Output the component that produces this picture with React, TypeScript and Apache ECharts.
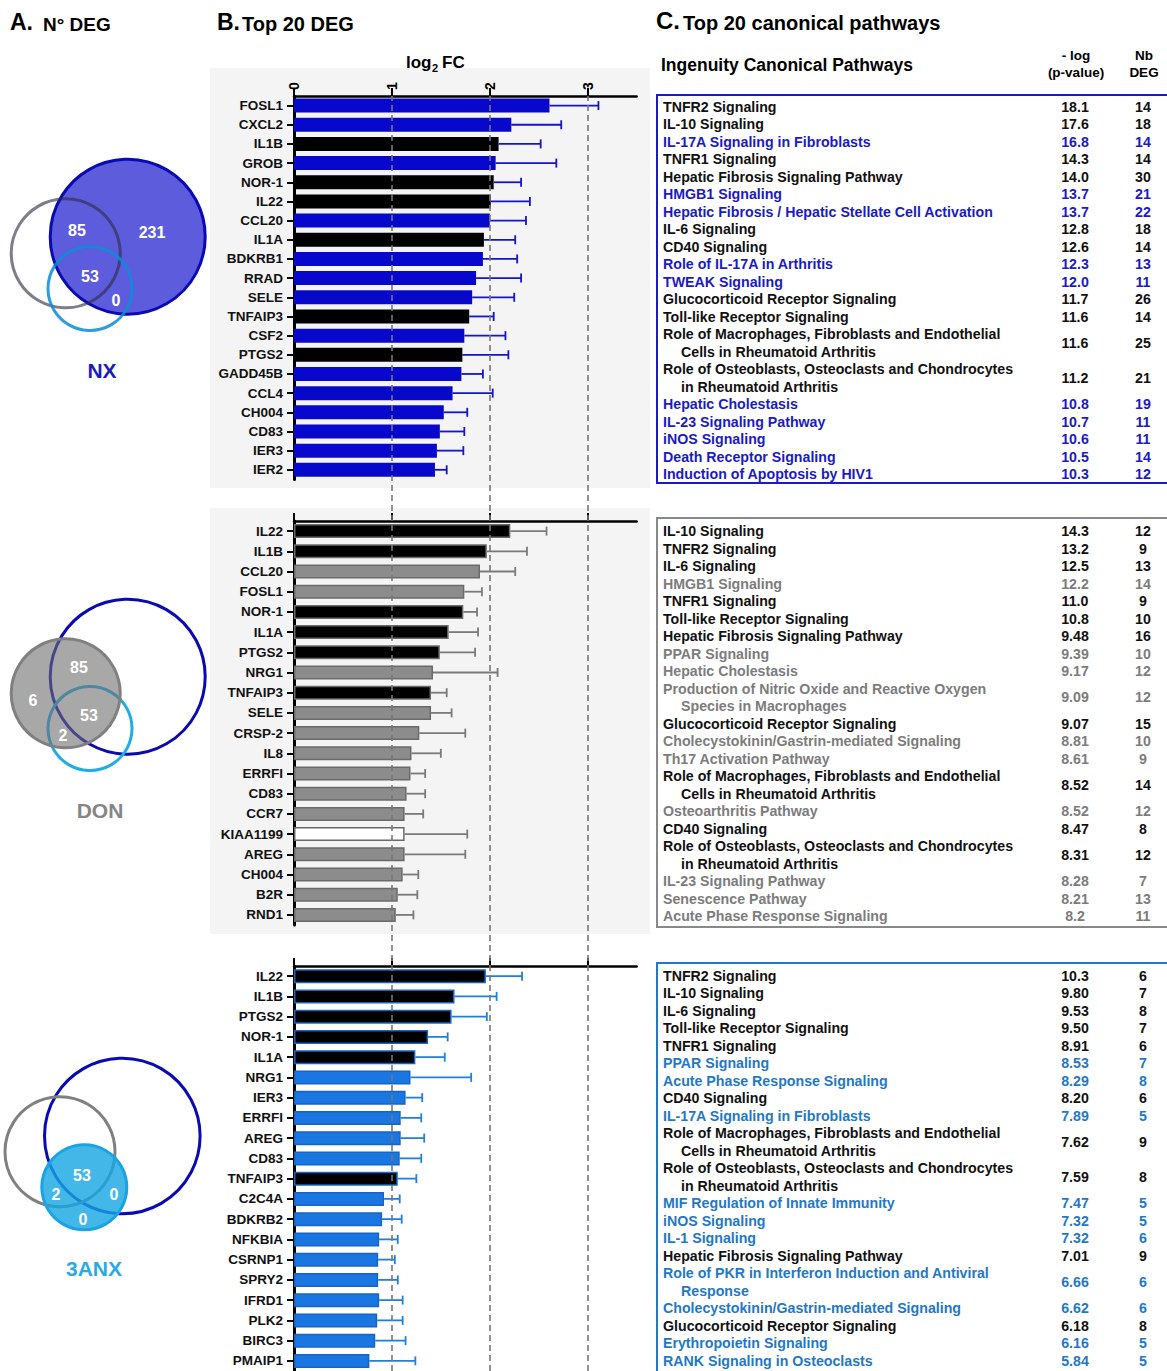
import React, { useEffect, useRef } from 'react';
import * as echarts from 'echarts';

const FONT = '"Liberation Sans", Arial, Helvetica, sans-serif';

// ---------- Panel B data (log2 FC, error) ----------
const nxGenes = ['FOSL1', 'CXCL2', 'IL1B', 'GROB', 'NOR-1', 'IL22', 'CCL20', 'IL1A', 'BDKRB1', 'RRAD', 'SELE', 'TNFAIP3', 'CSF2', 'PTGS2', 'GADD45B', 'CCL4', 'CH004', 'CD83', 'IER3', 'IER2'];
const nxFC = [2.61, 2.22, 2.09, 2.06, 2.04, 2.01, 2.0, 1.94, 1.93, 1.86, 1.82, 1.79, 1.74, 1.72, 1.71, 1.62, 1.53, 1.49, 1.46, 1.44];
const nxErr = [0.5, 0.51, 0.43, 0.62, 0.28, 0.4, 0.37, 0.32, 0.35, 0.46, 0.43, 0.25, 0.42, 0.47, 0.22, 0.41, 0.24, 0.25, 0.27, 0.12];

const donGenes = ['IL22', 'IL1B', 'CCL20', 'FOSL1', 'NOR-1', 'IL1A', 'PTGS2', 'NRG1', 'TNFAIP3', 'SELE', 'CRSP-2', 'IL8', 'ERRFI', 'CD83', 'CCR7', 'KIAA1199', 'AREG', 'CH004', 'B2R', 'RND1'];
const donFC = [2.21, 1.97, 1.9, 1.74, 1.73, 1.58, 1.49, 1.42, 1.4, 1.4, 1.28, 1.2, 1.19, 1.15, 1.13, 1.13, 1.13, 1.11, 1.06, 1.04];
const donErr = [0.37, 0.41, 0.36, 0.18, 0.14, 0.3, 0.36, 0.66, 0.16, 0.21, 0.47, 0.3, 0.15, 0.19, 0.19, 0.64, 0.62, 0.16, 0.2, 0.18];

const anxGenes = ['IL22', 'IL1B', 'PTGS2', 'NOR-1', 'IL1A', 'NRG1', 'IER3', 'ERRFI', 'AREG', 'CD83', 'TNFAIP3', 'C2C4A', 'BDKRB2', 'NFKBIA', 'CSRNP1', 'SPRY2', 'IFRD1', 'PLK2', 'BIRC3', 'PMAIP1'];
const anxFC = [1.96, 1.64, 1.61, 1.37, 1.24, 1.19, 1.14, 1.09, 1.09, 1.08, 1.06, 0.92, 0.9, 0.87, 0.86, 0.86, 0.87, 0.85, 0.83, 0.77];
const anxErr = [0.37, 0.43, 0.36, 0.2, 0.3, 0.62, 0.17, 0.21, 0.24, 0.22, 0.19, 0.16, 0.2, 0.19, 0.17, 0.2, 0.24, 0.26, 0.31, 0.47];

const commonGenes = ['IL1B', 'NOR-1', 'IL22', 'IL1A', 'TNFAIP3', 'PTGS2'];
const hollowGenes = ['KIAA1199'];
const xTicks = [0, 1, 2, 3];
const refLines = [1, 2, 3];

// ---------- Panel A data ----------
const nxVenn = ['85', '231', '53', '0'];
const donVenn = ['85', '6', '53', '2'];
const anxVenn = ['53', '2', '0', '0'];

// ---------- Panel C data ----------
const nxPaths = ['TNFR2 Signaling', 'IL-10 Signaling', 'IL-17A Signaling in Fibroblasts', 'TNFR1 Signaling', 'Hepatic Fibrosis Signaling Pathway', 'HMGB1 Signaling', 'Hepatic Fibrosis / Hepatic Stellate Cell Activation', 'IL-6 Signaling', 'CD40 Signaling', 'Role of IL-17A in Arthritis', 'TWEAK Signaling', 'Glucocorticoid Receptor Signaling', 'Toll-like Receptor Signaling', 'Role of Macrophages, Fibroblasts and Endothelial\nCells in Rheumatoid Arthritis', 'Role of Osteoblasts, Osteoclasts and Chondrocytes\nin Rheumatoid Arthritis', 'Hepatic Cholestasis', 'IL-23 Signaling Pathway', 'iNOS Signaling', 'Death Receptor Signaling', 'Induction of Apoptosis by HIV1'];
const nxLogP = ['18.1', '17.6', '16.8', '14.3', '14.0', '13.7', '13.7', '12.8', '12.6', '12.3', '12.0', '11.7', '11.6', '11.6', '11.2', '10.8', '10.7', '10.6', '10.5', '10.3'];
const nxNb = [14, 18, 14, 14, 30, 21, 22, 18, 14, 13, 11, 26, 14, 25, 21, 19, 11, 11, 14, 12];
const nxHi = [0, 0, 1, 0, 0, 1, 1, 0, 0, 1, 1, 0, 0, 0, 0, 1, 1, 1, 1, 1];

const donPaths = ['IL-10 Signaling', 'TNFR2 Signaling', 'IL-6 Signaling', 'HMGB1 Signaling', 'TNFR1 Signaling', 'Toll-like Receptor Signaling', 'Hepatic Fibrosis Signaling Pathway', 'PPAR Signaling', 'Hepatic Cholestasis', 'Production of Nitric Oxide and Reactive Oxygen\nSpecies in Macrophages', 'Glucocorticoid Receptor Signaling', 'Cholecystokinin/Gastrin-mediated Signaling', 'Th17 Activation Pathway', 'Role of Macrophages, Fibroblasts and Endothelial\nCells in Rheumatoid Arthritis', 'Osteoarthritis Pathway', 'CD40 Signaling', 'Role of Osteoblasts, Osteoclasts and Chondrocytes\nin Rheumatoid Arthritis', 'IL-23 Signaling Pathway', 'Senescence Pathway', 'Acute Phase Response Signaling'];
const donLogP = ['14.3', '13.2', '12.5', '12.2', '11.0', '10.8', '9.48', '9.39', '9.17', '9.09', '9.07', '8.81', '8.61', '8.52', '8.52', '8.47', '8.31', '8.28', '8.21', '8.2'];
const donNb = [12, 9, 13, 14, 9, 10, 16, 10, 12, 12, 15, 10, 9, 14, 12, 8, 12, 7, 13, 11];
const donHi = [0, 0, 0, 1, 0, 0, 0, 1, 1, 1, 0, 1, 1, 0, 1, 0, 0, 1, 1, 1];

const anxPaths = ['TNFR2 Signaling', 'IL-10 Signaling', 'IL-6 Signaling', 'Toll-like Receptor Signaling', 'TNFR1 Signaling', 'PPAR Signaling', 'Acute Phase Response Signaling', 'CD40 Signaling', 'IL-17A Signaling in Fibroblasts', 'Role of Macrophages, Fibroblasts and Endothelial\nCells in Rheumatoid Arthritis', 'Role of Osteoblasts, Osteoclasts and Chondrocytes\nin Rheumatoid Arthritis', 'MIF Regulation of Innate Immunity', 'iNOS Signaling', 'IL-1 Signaling', 'Hepatic Fibrosis Signaling Pathway', 'Role of PKR in Interferon Induction and Antiviral\nResponse', 'Cholecystokinin/Gastrin-mediated Signaling', 'Glucocorticoid Receptor Signaling', 'Erythropoietin Signaling', 'RANK Signaling in Osteoclasts'];
const anxLogP = ['10.3', '9.80', '9.53', '9.50', '8.91', '8.53', '8.29', '8.20', '7.89', '7.62', '7.59', '7.47', '7.32', '7.32', '7.01', '6.66', '6.62', '6.18', '6.16', '5.84'];
const anxNb = [6, 7, 8, 7, 6, 7, 8, 6, 5, 9, 8, 5, 5, 6, 9, 6, 6, 8, 5, 5];
const anxHi = [0, 0, 0, 0, 0, 1, 1, 0, 1, 0, 0, 1, 1, 1, 0, 1, 1, 0, 1, 1];

// ---------- layout ----------
const AX_LEFT = 294;
const AX_WIDTH = 342.6;
const panels = [
  { top: 96, height: 383.4 },
  { top: 521, height: 404 },
  { top: 966, height: 408 },
];

function txt(x: number, y: number, text: string, size: number, fill: string, align = 'left', weight = 'bold', z = 50) {
  return {
    type: 'text',
    x,
    y,
    z,
    silent: true,
    style: {
      text,
      fill,
      font: `${weight} ${size}px ${FONT}`,
      textAlign: align,
      textVerticalAlign: 'middle',
    },
  };
}

function barPanel(i: number, genes: string[], fc: number[], err: number[], st: any) {
  const grid = { left: AX_LEFT, width: AX_WIDTH, top: panels[i].top, height: panels[i].height, containLabel: false };
  const xAxis = {
    gridIndex: i,
    type: 'value',
    position: 'top',
    min: 0,
    max: 3.5,
    interval: 1,
    axisLine: { show: true, onZero: false, lineStyle: { color: '#000', width: 2.5 } },
    axisTick: { show: true, inside: false, length: 8, customValues: xTicks, lineStyle: { color: '#000', width: 2 } },
    axisLabel: {
      show: i === 0,
      rotate: -90,
      margin: 6,
      customValues: xTicks,
      formatter: (v: number) => (Number.isInteger(v) && v <= 3 ? String(v) : ''),
      fontFamily: FONT,
      fontWeight: 'bold',
      fontSize: 14,
      color: '#000',
    },
    splitLine: { show: false },
  };
  const yAxis = {
    gridIndex: i,
    type: 'category',
    data: genes,
    inverse: true,
    axisLine: { show: true, lineStyle: { color: '#000', width: 3 } },
    axisTick: { show: true, alignWithLabel: true, length: 7, lineStyle: { color: '#000', width: 2 } },
    axisLabel: { margin: 11, fontFamily: FONT, fontWeight: 'bold', fontSize: 13.5, color: '#111' },
    splitLine: { show: false },
  };
  const barData = fc.map((v, k) => {
    const g = genes[k];
    let itemStyle: any = { color: st.bar, borderColor: st.border, borderWidth: st.borderWidth };
    if (commonGenes.includes(g)) itemStyle = { color: '#000', borderColor: st.border, borderWidth: st.borderWidth };
    if (hollowGenes.includes(g)) itemStyle = { color: '#fff', borderColor: st.border, borderWidth: 1.5 };
    return { value: v, itemStyle };
  });
  const bars = {
    type: 'bar',
    xAxisIndex: i,
    yAxisIndex: i,
    data: barData,
    barWidth: 14,
    z: 3,
    silent: true,
  };
  const errColor = st.err;
  const errs = {
    type: 'custom',
    xAxisIndex: i,
    yAxisIndex: i,
    z: 4,
    silent: true,
    encode: { x: [0, 2], y: 1 },
    data: fc.map((v, k) => [v, k, v + err[k]]),
    renderItem: (params: any, api: any) => {
      const s = api.coord([api.value(0), api.value(1)]);
      const e = api.coord([api.value(2), api.value(1)]);
      return {
        type: 'group',
        children: [
          { type: 'line', shape: { x1: s[0], y1: s[1], x2: e[0], y2: e[1] }, style: { stroke: errColor, lineWidth: 1.8 } },
          { type: 'line', shape: { x1: e[0], y1: e[1] - 4.5, x2: e[0], y2: e[1] + 4.5 }, style: { stroke: errColor, lineWidth: 1.8 } },
        ],
      };
    },
  };
  return { grid, xAxis, yAxis, series: [bars, errs] };
}

function tableEls(names: string[], vals: string[], nbs: number[], hi: number[], hiColor: string, border: string, top: number, height: number, firstY: number) {
  const STEP = 17.5;
  const FS = 14.2;
  const els: any[] = [];
  els.push({ type: 'rect', z: 40, silent: true, shape: { x: 657, y: top, width: 530, height }, style: { fill: 'none', stroke: border, lineWidth: 2 } });
  let line = 0;
  names.forEach((nm, i) => {
    const parts = nm.split('\n');
    const color = hi[i] ? hiColor : '#111';
    const y0 = firstY + line * STEP;
    parts.forEach((p, j) => els.push(txt(j === 0 ? 663 : 681, y0 + j * STEP, p, FS, color)));
    const yc = y0 + ((parts.length - 1) * STEP) / 2;
    els.push(txt(1075, yc, vals[i], FS, color, 'center'));
    els.push(txt(1143, yc, String(nbs[i]), FS, color, 'center'));
    line += parts.length;
  });
  return els;
}

type Pt = [number, number];

function vennEls(kind: string, big: any, gray: any, lb: any, labels: string[], pos: Pt[]) {
  const els: any[] = [];
  const c = (shape: any, style: any, z: number) => ({ type: 'circle', z, silent: true, shape, style });
  if (kind === 'nx') {
    els.push(c(big, { fill: '#5c5cdc', stroke: '#0a0ab4', lineWidth: 3 }, 20));
    els.push(c(gray, { fill: 'none', stroke: 'rgba(45,45,70,0.62)', lineWidth: 3 }, 21));
    els.push(c(lb, { fill: 'none', stroke: 'rgba(10,140,215,0.85)', lineWidth: 3 }, 22));
  } else if (kind === 'don') {
    els.push(c(big, { fill: 'none', stroke: '#0a0ab4', lineWidth: 3 }, 20));
    els.push(c(lb, { fill: 'none', stroke: '#22ace6', lineWidth: 3 }, 21));
    els.push(c(gray, { fill: 'rgba(110,110,110,0.6)', stroke: '#808080', lineWidth: 3 }, 22));
  } else {
    els.push(c(big, { fill: 'none', stroke: '#0a0ab4', lineWidth: 3 }, 20));
    els.push(c(gray, { fill: 'none', stroke: '#808080', lineWidth: 3 }, 21));
    els.push(c(lb, { fill: 'rgba(20,165,225,0.8)', stroke: '#1aa3e2', lineWidth: 3 }, 22));
  }
  labels.forEach((l, k) => els.push(txt(pos[k][0], pos[k][1], l, 16, '#fff', 'center')));
  return els;
}

function buildOption() {
  const p1 = barPanel(0, nxGenes, nxFC, nxErr, { bar: '#0808cc', border: 'rgba(0,0,0,0)', borderWidth: 0, err: '#1414cc' });
  const p2 = barPanel(1, donGenes, donFC, donErr, { bar: '#8c8c8c', border: '#6a6a6a', borderWidth: 1.5, err: '#7a7a7a' });
  const p3 = barPanel(2, anxGenes, anxFC, anxErr, { bar: '#1a76e0', border: '#1565c8', borderWidth: 1.5, err: '#1f7fe0' });

  const bgGrid = { left: AX_LEFT, width: AX_WIDTH, top: 96, height: 1275 };
  const bgX = { gridIndex: 3, type: 'value', min: 0, max: 3.5, show: false };
  const bgY = { gridIndex: 3, type: 'value', min: 0, max: 1, show: false };
  const bgSeries = {
    type: 'line',
    xAxisIndex: 3,
    yAxisIndex: 3,
    z: 1,
    silent: true,
    showSymbol: false,
    lineStyle: { opacity: 0 },
    data: [[0, 0]],
    markLine: {
      silent: true,
      symbol: ['none', 'none'],
      label: { show: false },
      lineStyle: { type: [6, 4], color: '#777', width: 1.6 },
      data: refLines.map((v) => ({ xAxis: v })),
    },
  };

  const graphics: any[] = [];
  // faint panel backgrounds
  graphics.push({ type: 'rect', z: -10, silent: true, shape: { x: 210, y: 68, width: 440, height: 420 }, style: { fill: '#f4f4f4' } });
  graphics.push({ type: 'rect', z: -10, silent: true, shape: { x: 210, y: 508, width: 440, height: 426 }, style: { fill: '#f4f4f4' } });

  // titles
  graphics.push(txt(10, 22, 'A.', 23, '#000'));
  graphics.push(txt(43, 24, 'N° DEG', 19, '#000'));
  graphics.push(txt(217, 22, 'B.', 23, '#000'));
  graphics.push(txt(242, 24, 'Top 20 DEG', 20, '#000'));
  graphics.push(txt(656, 20, 'C.', 24, '#000'));
  graphics.push(txt(683, 23, 'Top 20 canonical pathways', 20, '#000'));

  // axis title log2 FC
  graphics.push(txt(406, 62, 'log', 17, '#000'));
  graphics.push(txt(432, 68, '2', 11, '#000'));
  graphics.push(txt(442, 62, 'FC', 17, '#000'));

  // table headers
  graphics.push(txt(661, 65, 'Ingenuity Canonical Pathways', 17.5, '#000'));
  graphics.push(txt(1076, 55, '- log', 13.5, '#000', 'center'));
  graphics.push(txt(1076, 72, '(p-value)', 13.5, '#000', 'center'));
  graphics.push(txt(1144, 55, 'Nb', 13.5, '#000', 'center'));
  graphics.push(txt(1144, 72, 'DEG', 13.5, '#000', 'center'));

  graphics.push(...tableEls(nxPaths, nxLogP, nxNb, nxHi, '#1a1ac8', '#1a1ac8', 95, 388, 106.5));
  graphics.push(...tableEls(donPaths, donLogP, donNb, donHi, '#7c7c7c', '#888', 518, 409, 531));
  graphics.push(...tableEls(anxPaths, anxLogP, anxNb, anxHi, '#1f78c8', '#1f78c8', 963, 430, 975.5));

  // Venn diagrams
  graphics.push(
    ...vennEls(
      'nx',
      { cx: 127.7, cy: 236.7, r: 77.5 },
      { cx: 65.7, cy: 253.3, r: 54.5 },
      { cx: 90, cy: 288.5, r: 42 },
      nxVenn,
      [[77, 230], [152, 232], [90, 276], [116, 300]]
    )
  );
  graphics.push(txt(102, 370, 'NX', 21, '#1c1cb8', 'center'));
  graphics.push(
    ...vennEls(
      'don',
      { cx: 127.7, cy: 676.7, r: 77.5 },
      { cx: 65.7, cy: 693.3, r: 54.5 },
      { cx: 90, cy: 728.5, r: 42 },
      donVenn,
      [[79, 667], [33, 700], [89, 715], [63, 735]]
    )
  );
  graphics.push(txt(100, 810, 'DON', 21, '#858585', 'center'));
  graphics.push(
    ...vennEls(
      'anx',
      { cx: 122.3, cy: 1136, r: 77.8 },
      { cx: 60, cy: 1151.7, r: 55 },
      { cx: 84.3, cy: 1187.3, r: 42.5 },
      anxVenn,
      [[82, 1175], [56, 1194], [114, 1194], [83, 1219]]
    )
  );
  graphics.push(txt(94, 1268, '3ANX', 21, '#29abe2', 'center'));

  return {
    animation: false,
    backgroundColor: '#fff',
    grid: [p1.grid, p2.grid, p3.grid, bgGrid],
    xAxis: [p1.xAxis, p2.xAxis, p3.xAxis, bgX],
    yAxis: [p1.yAxis, p2.yAxis, p3.yAxis, bgY],
    series: [bgSeries, ...p1.series, ...p2.series, ...p3.series],
    graphic: { elements: graphics },
  };
}

export default function App() {
  const ref = useRef<HTMLDivElement>(null);
  useEffect(() => {
    const chart = echarts.init(ref.current!, null, { renderer: 'svg' });
    chart.setOption(buildOption() as any);
    return () => chart.dispose();
  }, []);
  return <div ref={ref} style={{ position: 'absolute', left: 0, top: 0, width: 1167, height: 1371, background: '#fff' }} />;
}
